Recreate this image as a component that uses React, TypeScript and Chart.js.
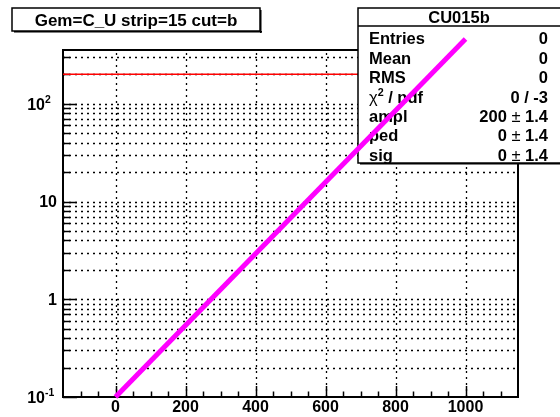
import { useEffect, useRef } from 'react';
import { Chart, registerables } from 'chart.js';
Chart.register(...registerables);

// ---- data ----
const titleText = 'Gem=C_U strip=15 cut=b';
const statsTitle = 'CU015b';
const statsLabels = ['Entries', 'Mean', 'RMS', 'χ^{2} / ndf', 'ampl', 'ped', 'sig'];
const statsValues = ['0', '0', '0', '0 / -3', '200 ± 1.4', '0 ± 1.4', '0 ± 1.4'];
const fitX = [0, 1000];
const fitY = [0.1, 459];
const pedX = [-150, 1150];
const pedY = [200, 200];
const xMajorTicks = [0, 200, 400, 600, 800, 1000];
const xMajorLabels = ['0', '200', '400', '600', '800', '1000'];
const xMinorTicks = [-100, -50, 50, 100, 150, 250, 300, 350, 450, 500, 550, 650, 700, 750, 850, 900, 950, 1050, 1100];
const yDecades = [0.1, 1, 10, 100];
const yDecadeLabels = ['10^{-1}', '1', '10', '10^{2}'];
const yMinorMult = [2, 3, 4, 5, 6, 7, 8, 9];
const X_MIN = -150, X_MAX = 1150, Y_MIN = 0.1, Y_MAX = 355;

const FONT = '"Liberation Sans", Arial, Helvetica, sans-serif';

type Seg = { t: string; sup: boolean; sym: boolean };
function parseRich(s: string): Seg[] {
  const out: Seg[] = [];
  const re = /\^\{([^}]*)\}|[±χ]|[^^±χ]+/g;
  let m: RegExpExecArray | null;
  while ((m = re.exec(s))) {
    if (m[1] !== undefined) out.push({ t: m[1], sup: true, sym: false });
    else if (m[0] === '±' || m[0] === 'χ') out.push({ t: m[0], sup: false, sym: true });
    else out.push({ t: m[0], sup: false, sym: false });
  }
  return out;
}
// align 'base-right': right-align only the non-superscript part; exponent hangs after it
function drawRich(ctx: CanvasRenderingContext2D, s: string, x: number, yc: number, align: 'left' | 'right' | 'center' | 'base-right', size: number) {
  const segs = parseRich(s);
  const font = (g: Seg) => `${g.sym ? 'normal' : 'bold'} ${g.sup ? size * 0.65 : size}px ${FONT}`;
  let total = 0;
  let baseW = 0;
  const widths = segs.map((g) => {
    ctx.font = font(g);
    const w = ctx.measureText(g.t).width;
    total += w;
    if (!g.sup) baseW += w;
    return w;
  });
  let cx = align === 'right' ? x - total : align === 'center' ? x - total / 2 : align === 'base-right' ? x - baseW : x;
  ctx.textAlign = 'left';
  ctx.textBaseline = 'alphabetic';
  const base = yc + size * 0.36;
  segs.forEach((g, i) => {
    ctx.font = font(g);
    ctx.fillText(g.t, cx, g.sup ? base - size * 0.42 : base);
    cx += widths[i];
  });
}

function drawBox(ctx: CanvasRenderingContext2D, x1: number, y1: number, x2: number, y2: number) {
  ctx.save();
  ctx.fillStyle = '#fff';
  ctx.fillRect(x1, y1, x2 - x1, y2 - y1);
  ctx.strokeStyle = '#000';
  ctx.lineWidth = 1.5;
  ctx.strokeRect(x1, y1, x2 - x1, y2 - y1);
  ctx.fillStyle = '#000';
  ctx.fillRect(x2, y1 + 2, 1.5, y2 - y1);
  ctx.fillRect(x1 + 2, y2, x2 - x1, 1.5);
  ctx.restore();
}

const rootStyle = {
  id: 'rootStyle',
  beforeDraw(chart: any) {
    const ctx = chart.ctx;
    ctx.save();
    ctx.fillStyle = '#fff';
    ctx.fillRect(0, 0, chart.width, chart.height);
    ctx.restore();
  },
  beforeDatasetsDraw(chart: any) {
    const ctx: CanvasRenderingContext2D = chart.ctx;
    const { left, right, top, bottom } = chart.chartArea;
    const xs = chart.scales.x, ys = chart.scales.y;
    ctx.save();
    // grid
    ctx.strokeStyle = '#000';
    ctx.lineWidth = 1.3;
    ctx.setLineDash([2, 4]);
    xMajorTicks.forEach((v) => {
      const px = Math.round(xs.getPixelForValue(v)) + 0.5;
      ctx.beginPath(); ctx.moveTo(px, bottom); ctx.lineTo(px, top); ctx.stroke();
    });
    const yGrid: number[] = [];
    yDecades.forEach((d) => { yGrid.push(d); yMinorMult.forEach((m) => yGrid.push(d * m)); });
    yGrid.forEach((v) => {
      if (v <= Y_MIN || v >= Y_MAX) return;
      const py = Math.round(ys.getPixelForValue(v)) + 0.5;
      ctx.beginPath(); ctx.moveTo(left, py); ctx.lineTo(right, py); ctx.stroke();
    });
    ctx.setLineDash([]);
    // ticks
    ctx.lineWidth = 1.5;
    yGrid.forEach((v) => {
      if (v < Y_MIN || v > Y_MAX) return;
      const py = Math.round(ys.getPixelForValue(v)) + 0.5;
      const len = yDecades.includes(v) ? 14 : 7;
      ctx.beginPath(); ctx.moveTo(left, py); ctx.lineTo(left + len, py); ctx.stroke();
    });
    xMajorTicks.forEach((v) => {
      const px = Math.round(xs.getPixelForValue(v)) + 0.5;
      ctx.beginPath(); ctx.moveTo(px, bottom); ctx.lineTo(px, bottom - 11); ctx.stroke();
    });
    xMinorTicks.forEach((v) => {
      const px = Math.round(xs.getPixelForValue(v)) + 0.5;
      ctx.beginPath(); ctx.moveTo(px, bottom); ctx.lineTo(px, bottom - 5.5); ctx.stroke();
    });
    // frame
    ctx.lineWidth = 2;
    ctx.strokeRect(left, top, right - left, bottom - top);
    // labels
    ctx.fillStyle = '#000';
    xMajorTicks.forEach((v, i) => {
      drawRich(ctx, xMajorLabels[i], xs.getPixelForValue(v), bottom + 9, 'center', 16);
    });
    yDecades.forEach((v, i) => {
      const lab = yDecadeLabels[i];
      const hasSup = lab.includes('^');
      drawRich(ctx, lab, hasSup ? left - 18 : left - 6, ys.getPixelForValue(v), hasSup ? 'base-right' : 'right', 16);
    });
    // title box
    drawBox(ctx, 12, 8, 260, 31);
    drawRich(ctx, titleText, 136, 19.5, 'center', 17);
    ctx.restore();
  },
  beforeDatasetDraw(chart: any, args: any) {
    if (args.index !== 0) return;
    const ctx: CanvasRenderingContext2D = chart.ctx;
    ctx.save();
    drawBox(ctx, 358, 8, 563, 163);
    ctx.strokeStyle = '#000';
    ctx.lineWidth = 1.5;
    ctx.beginPath(); ctx.moveTo(358, 26); ctx.lineTo(563, 26); ctx.stroke();
    ctx.fillStyle = '#000';
    drawRich(ctx, statsTitle, 459, 17, 'center', 16.5);
    statsLabels.forEach((lab, i) => {
      const y = 38.5 + i * 19.4;
      drawRich(ctx, lab, 369, y, 'left', 16.5);
      drawRich(ctx, statsValues[i], 548, y, 'right', 16.5);
    });
    ctx.restore();
  },
};

export default function App() {
  const ref = useRef<HTMLCanvasElement>(null);
  useEffect(() => {
    document.body.style.margin = '0';
    const chart = new Chart(ref.current!, {
      type: 'line',
      data: {
        datasets: [
          {
            label: 'fit',
            data: fitX.map((x, i) => ({ x, y: fitY[i] })),
            borderColor: '#ff00ff',
            borderWidth: 5,
            pointRadius: 0,
            fill: false,
            clip: false as any,
            tension: 0,
          },
          {
            label: 'ped',
            data: pedX.map((x, i) => ({ x, y: pedY[i] })),
            borderColor: '#ff0000',
            borderWidth: 1.5,
            pointRadius: 0,
            fill: false,
            tension: 0,
          },
        ],
      },
      options: {
        responsive: false,
        animation: false,
        devicePixelRatio: 1,
        layout: { padding: { left: 63, right: 42, top: 50, bottom: 20 } },
        scales: {
          x: { type: 'linear', min: X_MIN, max: X_MAX, display: false },
          y: { type: 'logarithmic', min: Y_MIN, max: Y_MAX, display: false },
        },
        plugins: { legend: { display: false }, tooltip: { enabled: false } },
      },
      plugins: [rootStyle],
    });
    return () => chart.destroy();
  }, []);
  return (
    <div style={{ position: 'absolute', left: 0, top: 0, width: 560, height: 417 }}>
      <canvas ref={ref} width={560} height={417} style={{ width: 560, height: 417, display: 'block' }} />
    </div>
  );
}
